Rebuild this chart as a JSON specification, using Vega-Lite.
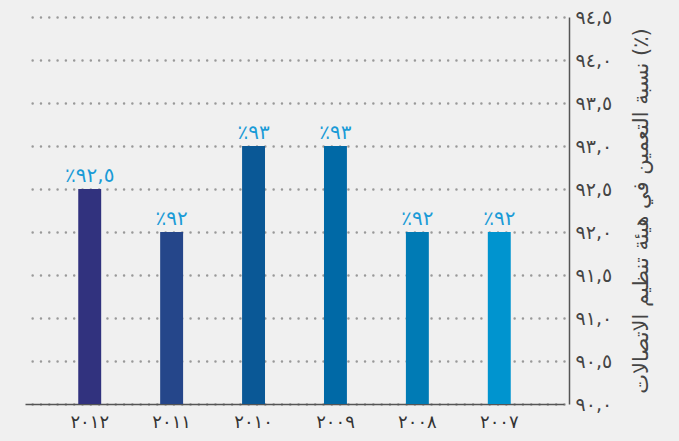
{
  "$schema": "https://vega.github.io/schema/vega-lite/v6.json",
  "width": 539,
  "height": 387,
  "autosize": "none",
  "padding": {"left": 25, "top": 17, "right": 115, "bottom": 37},
  "background": "#f0f0f0",
  "config": {
    "view": {"stroke": null},
    "font": "DejaVu Sans"
  },
  "data": {
    "values": [
      {"year": "٢٠١٢", "value": 92.5, "label": "٪٩٢,٥"},
      {"year": "٢٠١١", "value": 92, "label": "٪٩٢"},
      {"year": "٢٠١٠", "value": 93, "label": "٪٩٣"},
      {"year": "٢٠٠٩", "value": 93, "label": "٪٩٣"},
      {"year": "٢٠٠٨", "value": 92, "label": "٪٩٢"},
      {"year": "٢٠٠٧", "value": 92, "label": "٪٩٢"}
    ]
  },
  "encoding": {
    "x": {
      "field": "year",
      "type": "nominal",
      "sort": ["٢٠١٢", "٢٠١١", "٢٠١٠", "٢٠٠٩", "٢٠٠٨", "٢٠٠٧"],
      "scale": {"paddingInner": 0.72, "paddingOuter": 0.65},
      "axis": {
        "title": null,
        "labelAngle": 0,
        "labelFontSize": 18,
        "labelColor": "#333333",
        "labelPadding": 9,
        "ticks": false,
        "domainColor": "#555555",
        "domainWidth": 1.5,
        "grid": false
      }
    },
    "y": {
      "field": "value",
      "type": "quantitative",
      "scale": {"domain": [90, 94.5], "zero": false, "nice": false},
      "axis": {
        "orient": "right",
        "offset": 5,
        "values": [90, 90.5, 91, 91.5, 92, 92.5, 93, 93.5, 94, 94.5],
        "labelExpr": "replace(replace(replace(replace(replace(replace(replace(replace(replace(replace(replace(format(datum.value,'.1f'),'.',','),regexp('0','g'),'٠'),regexp('1','g'),'١'),regexp('2','g'),'٢'),regexp('3','g'),'٣'),regexp('4','g'),'٤'),regexp('5','g'),'٥'),regexp('6','g'),'٦'),regexp('7','g'),'٧'),regexp('8','g'),'٨'),regexp('9','g'),'٩')",
        "labelFontSize": 19,
        "labelColor": "#444444",
        "labelPadding": 6,
        "ticks": false,
        "domainColor": "#555555",
        "domainWidth": 1.5,
        "grid": true,
        "gridColor": "#999999",
        "gridWidth": 2.5,
        "gridDash": [0.01, 8.3],
        "gridCap": "round",
        "title": "نسبة التعمين في هيئة تنظيم الاتصالات (٪)",
        "titleAngle": -90,
        "titleFontSize": 21,
        "titleFontWeight": "normal",
        "titleColor": "#444444",
        "titlePadding": 40
      }
    }
  },
  "layer": [
    {
      "mark": {"type": "bar"},
      "encoding": {
        "y2": {"datum": 90},
        "color": {
          "field": "year",
          "type": "nominal",
          "scale": {
            "domain": ["٢٠١٢", "٢٠١١", "٢٠١٠", "٢٠٠٩", "٢٠٠٨", "٢٠٠٧"],
            "range": ["#31327e", "#25468a", "#0a5896", "#0069a6", "#007bb5", "#0094cf"]
          },
          "legend": null
        }
      }
    },
    {
      "mark": {"type": "text", "baseline": "alphabetic", "dy": -7, "fontSize": 20, "color": "#1a9bd7"},
      "encoding": {
        "text": {"field": "label"}
      }
    }
  ]
}
